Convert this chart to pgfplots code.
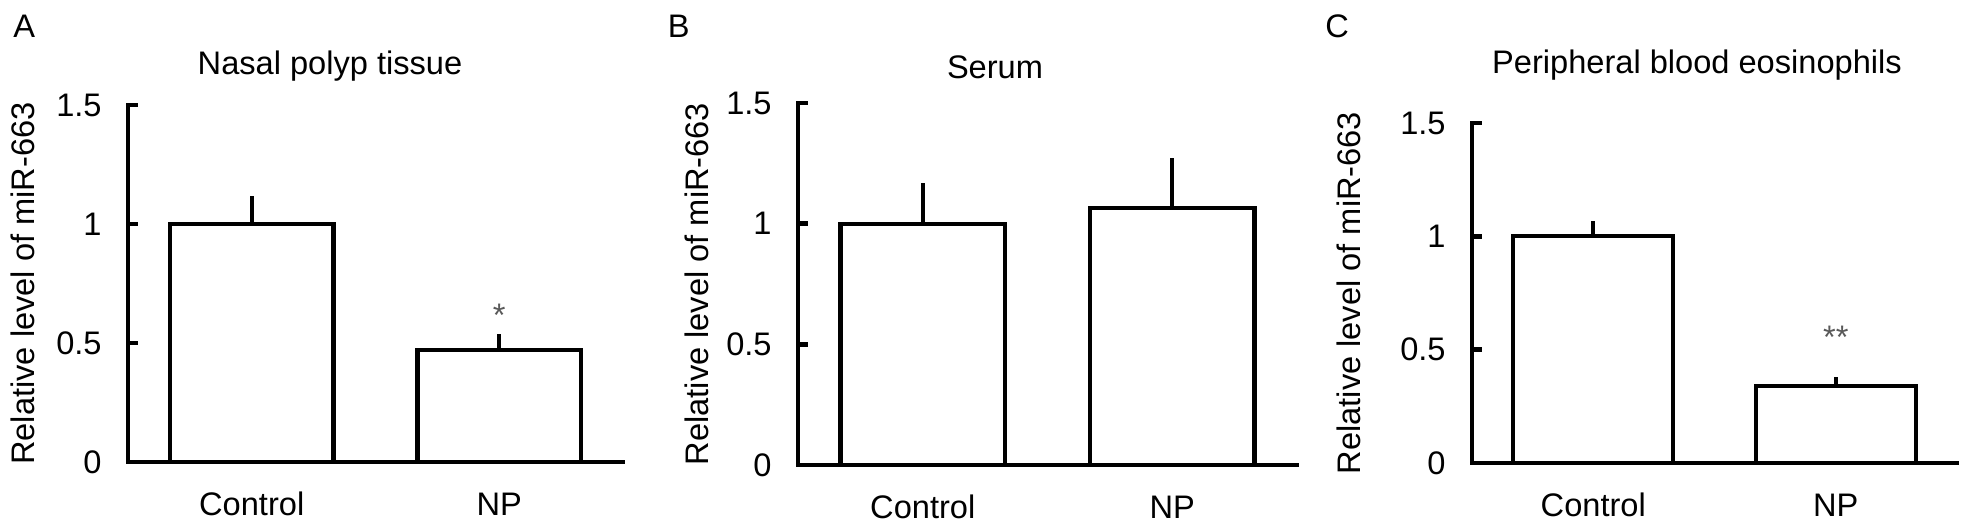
\documentclass[border=0pt]{standalone}
\usepackage{fontspec}
\setmainfont{Liberation Sans}
\usepackage{pgfplots}
\pgfplotsset{compat=1.18}

\pgfplotsset{
  panel/.style={
    scale only axis,
    anchor=south west,
    ybar,
    bar width=0.66,
    xmin=-0.5, xmax=1.5,
    ymin=0, ymax=1.5,
    enlargelimits=false,
    clip=false,
    axis x line=bottom,
    axis y line=left,
    axis line style={-, line width=2.3pt, line cap=rect},
    xtick={0,1},
    xticklabels={Control,NP},
    xtick style={draw=none},
    ytick={0,0.5,1,1.5},
    yticklabels={0,0.5,1,1.5},
    ytick style={line width=2.3pt, black},
    tick align=inside,
    major tick length=5pt,
    xticklabel style={anchor=base, inner sep=0pt, yshift=-26.5pt},
    yticklabel style={anchor=east, inner sep=0pt, xshift=-13pt},
    ylabel={Relative level of miR-663},
    ylabel style={anchor=center, inner sep=0pt},
  },
  barplot/.style={
    draw=black, fill=white, line width=2.1pt,
    error bars/.cd, y dir=plus, y explicit,
    error bar style={line width=1.8pt, black},
    error mark options={line width=2.2pt, mark size=2pt, black},
  },
}

\begin{document}
\begin{tikzpicture}[font=\fontsize{16.3}{19.5}\selectfont]
\useasboundingbox (0,0) rectangle (985pt,-263.5pt);

% Panel A
\begin{axis}[panel, at={(64pt,-231pt)}, width=247.5pt, height=178.5pt,
  ylabel style={at={(axis description cs:-0.212,0.5)}}]
\addplot[barplot] coordinates {(0,1.0) +- (0,0.10) (1,0.47) +- (0,0.05)};
\node[anchor=base, text=black!65, inner sep=0pt] at (axis cs:1,0.571) {*};
\end{axis}

% Panel B
\begin{axis}[panel, at={(399pt,-232.5pt)}, width=249.5pt, height=181pt,
  ylabel style={at={(axis description cs:-0.2024,0.5)}}]
\addplot[barplot] coordinates {(0,1.0) +- (0,0.15) (1,1.065) +- (0,0.19)};
\end{axis}

% Panel C
\begin{axis}[panel, at={(736pt,-231.5pt)}, width=242.5pt, height=170pt,
  ylabel style={at={(axis description cs:-0.2536,0.5)}}]
\addplot[barplot] coordinates {(0,1.0) +- (0,0.05) (1,0.34) +- (0,0.02)};
\node[anchor=base, text=black!65, inner sep=0pt] at (axis cs:1,0.507) {**};
\end{axis}

% Titles
\node[anchor=base, inner sep=0pt] at (165pt,-37pt) {Nasal polyp tissue};
\node[anchor=base, inner sep=0pt] at (497.5pt,-39pt) {Serum};
\node[anchor=base, inner sep=0pt] at (848.5pt,-36.5pt) {Peripheral blood eosinophils};

% Panel letters
\node[anchor=base west, inner sep=0pt] at (6.5pt,-18.5pt) {A};
\node[anchor=base west, inner sep=0pt] at (333.7pt,-18.5pt) {B};
\node[anchor=base west, inner sep=0pt] at (662.5pt,-18.5pt) {C};
\end{tikzpicture}
\end{document}
